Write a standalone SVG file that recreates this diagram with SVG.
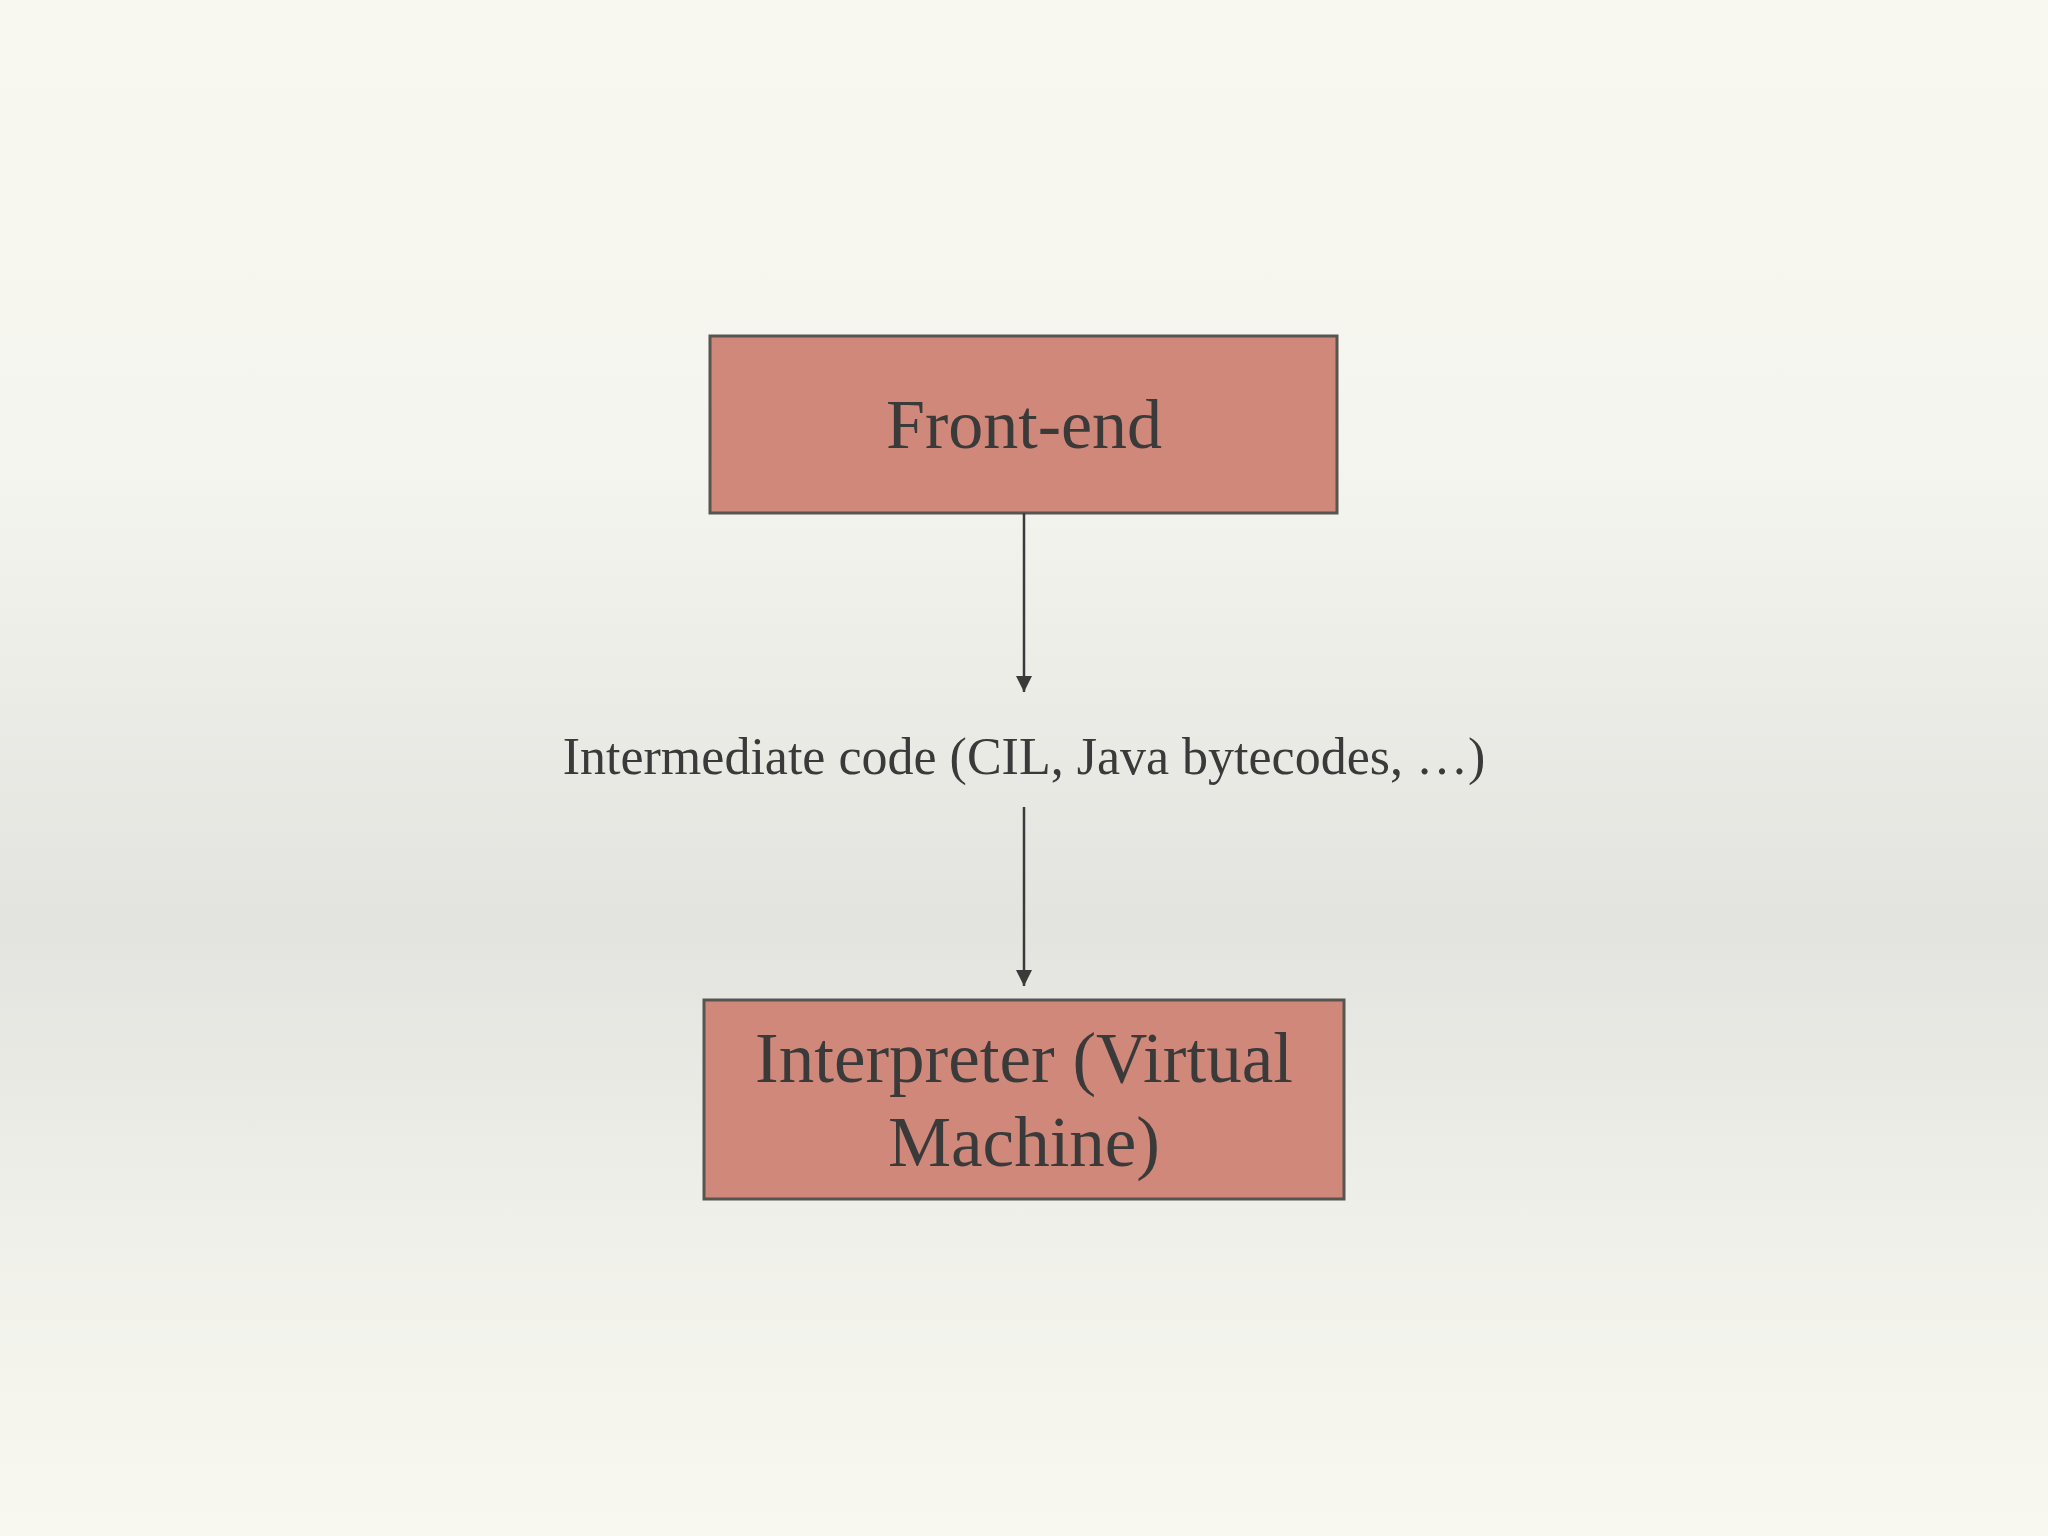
<svg xmlns="http://www.w3.org/2000/svg" width="2048" height="1536" viewBox="0 0 2048 1536">
<defs>
<linearGradient id="bg" x1="0" y1="0" x2="0" y2="1">
<stop offset="0" stop-color="#f8f8f0"/>
<stop offset="0.3" stop-color="#f5f5ef"/>
<stop offset="0.6" stop-color="#e3e3df"/>
<stop offset="0.8" stop-color="#f0f0ea"/>
<stop offset="1" stop-color="#f8f8f0"/>
</linearGradient>
<marker id="ah" markerWidth="18" markerHeight="18" refX="16" refY="8" orient="auto" markerUnits="userSpaceOnUse">
<path d="M0,0 L16,8 L0,16 z" fill="#3a3a3a"/>
</marker>
<style>
.box{fill:#d0887a;stroke:#585550;stroke-width:3}
.t{font-family:"Liberation Serif","DejaVu Serif",serif;fill:#3a3a3a;text-anchor:middle}
.c{stroke:#3a3a3a;stroke-width:2.5;fill:none}
</style>
</defs>
<rect width="2048" height="1536" fill="url(#bg)"/>
<g id="frontend">
<rect class="box" x="710" y="336" width="627" height="177"/>
<text class="t" x="1024" y="448" font-size="70">Front-end</text>
</g>
<g id="label">
<text class="t" x="1024" y="774" font-size="52">Intermediate code (CIL, Java bytecodes, …)</text>
</g>
<g id="interpreter">
<rect class="box" x="704" y="1000" width="640" height="199"/>
<text class="t" x="1024" y="1082" font-size="71">Interpreter (Virtual</text>
<text class="t" x="1024" y="1166" font-size="71">Machine)</text>
</g>
<g id="connectors">
<line class="c" x1="1024" y1="513" x2="1024" y2="692" marker-end="url(#ah)"/>
<line class="c" x1="1024" y1="807" x2="1024" y2="986" marker-end="url(#ah)"/>
</g>
</svg>
